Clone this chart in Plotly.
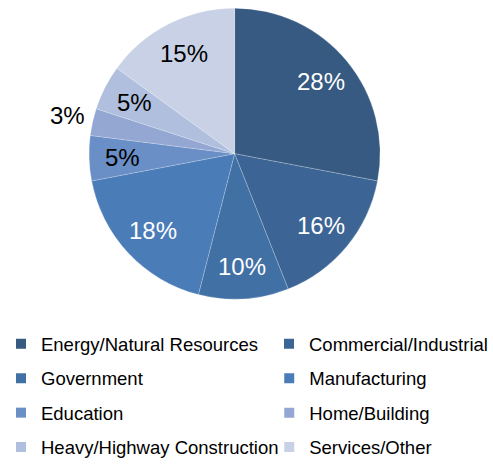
import math
import plotly.graph_objects as go

categories = ["Energy/Natural Resources", "Commercial/Industrial", "Government", "Manufacturing",
              "Education", "Home/Building", "Heavy/Highway Construction", "Services/Other"]
values = [28, 16, 10, 18, 5, 3, 5, 15]
colors = ["#365A82", "#3C6595", "#4170A5", "#4A7CB8", "#6A8EC6", "#93A7D2", "#AFBFDD", "#C8D1E6"]
text_colors = ["white", "white", "white", "white", "black", "black", "black", "black"]
label_outside = [False, False, False, False, False, True, False, False]

W, H = 493, 467
cx, cy, R = 237, 154, 147
FONT = "Liberation Sans, Arial"

fig = go.Figure()
fig.add_trace(go.Pie(
    labels=categories, values=values, sort=False, direction="clockwise", rotation=0,
    marker=dict(colors=colors, line=dict(color="rgba(255,255,255,0.35)", width=0.6)),
    textinfo="none",
    domain=dict(x=[(cx - R) / W, (cx + R) / W], y=[1 - (cy + R) / H, 1 - (cy - R) / H]),
    showlegend=False, hoverinfo="label+percent",
))

# data labels placed at each slice's mid-angle (computed from the values)
total = sum(values)
cum = 0
for v, tc, out in zip(values, text_colors, label_outside):
    mid = (cum + v / 2) / total * 2 * math.pi
    cum += v
    rf = 1.18 if out else 0.77
    px = cx + rf * R * math.sin(mid)
    py = cy - rf * R * math.cos(mid)
    fig.add_annotation(x=px / W, y=1 - py / H, xref="paper", yref="paper",
                       text=f"{v}%", showarrow=False, xanchor="center", yanchor="middle",
                       font=dict(family=FONT, size=24, color=tc))

# legend layout: 2 columns x 4 rows, one legend box per entry
row_y = [345, 379.5, 414, 448.5]
col_x = [1, 272]
layout_legends = {}
for i, (cat, col) in enumerate(zip(categories, colors)):
    ln = "legend" if i == 0 else f"legend{i + 1}"
    fig.add_trace(go.Scatter(
        x=[None], y=[None], mode="markers", name=cat,
        marker=dict(symbol="square", size=10, color=col),
        legend=ln, showlegend=True, hoverinfo="skip",
    ))
    layout_legends[ln] = dict(
        orientation="v", font=dict(family=FONT, size=18.5, color="black"),
        bgcolor="rgba(0,0,0,0)", xref="paper", yref="paper",
        xanchor="left", yanchor="middle",
        x=col_x[i % 2] / W, y=1 - row_y[i // 2] / H,
        itemclick=False, itemdoubleclick=False,
    )

fig.update_layout(
    width=W, height=H, margin=dict(l=0, r=0, t=0, b=0),
    paper_bgcolor="white", plot_bgcolor="white",
    xaxis=dict(visible=False), yaxis=dict(visible=False),
    **layout_legends,
)
fig.write_html("out.html")
